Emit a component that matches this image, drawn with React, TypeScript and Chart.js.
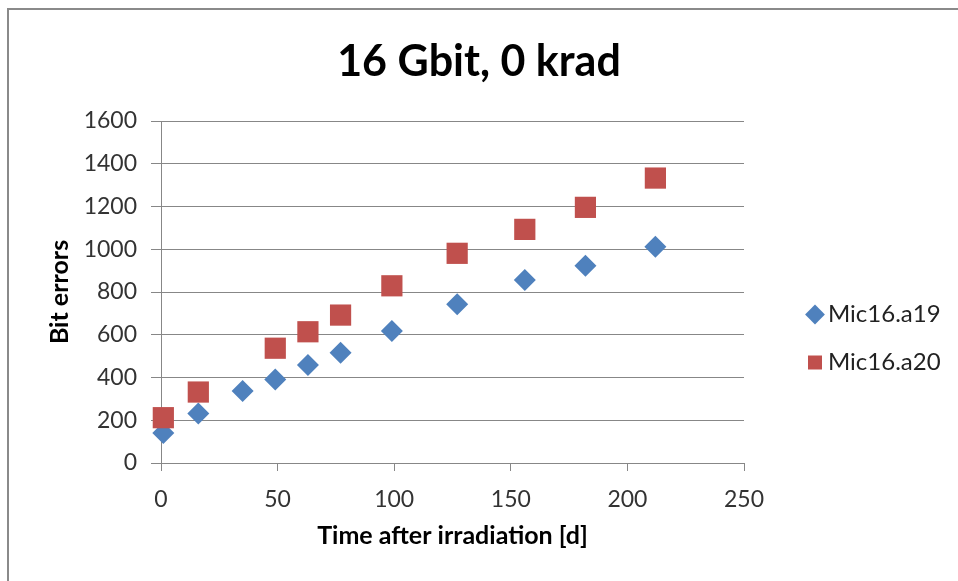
import React, { useEffect, useRef } from 'react';
import { Chart, registerables } from 'chart.js';

Chart.register(...registerables);

const TITLE = '16 Gbit, 0 krad';
const X_TITLE = 'Time after irradiation [d]';
const Y_TITLE = 'Bit errors';
const SERIES_NAMES = ['Mic16.a19', 'Mic16.a20'];

const A19_DAYS = [1, 16, 35, 49, 63, 77, 99, 127, 156, 182, 212];
const A19_ERRORS = [140, 232, 337, 391, 458, 516, 617, 743, 856, 923, 1012];
const A20_DAYS = [1, 16, 49, 63, 77, 99, 127, 156, 182, 212];
const A20_ERRORS = [212, 332, 537, 614, 692, 829, 981, 1093, 1196, 1333];

const X_MIN = 0;
const X_MAX = 250;
const X_STEP = 50;
const Y_MIN = 0;
const Y_MAX = 1600;
const Y_STEP = 200;

const W = 958;
const H = 581;
const FONT = "Lato, 'Open Sans', sans-serif";
const GRID = '#878787';
const TICK_COLOR = '#333333';

const LEGEND_W = 214;
const LEGEND_DX = 46;
const LEGEND_DY = 48;

function pts(xs: number[], ys: number[]) {
  return xs.map((x, i) => ({ x, y: ys[i] }));
}

export default function App() {
  const ref = useRef<HTMLCanvasElement | null>(null);

  useEffect(() => {
    if (!ref.current) return;
    const layoutPlugin = {
      id: 'layoutTweak',
      beforeLayout(chart: any) {
        const lg = chart.legend;
        if (lg && !lg.__patched) {
          const orig = lg.fit.bind(lg);
          lg.fit = function () {
            orig();
            this.width = LEGEND_W;
          };
          lg.__patched = true;
        }
      },
      afterLayout(chart: any) {
        const lg = chart.legend;
        if (lg) {
          lg.left += LEGEND_DX;
          lg.right += LEGEND_DX;
          lg.top += LEGEND_DY;
          lg.bottom += LEGEND_DY;
        }
      },
    };

    const chart = new Chart(ref.current, {
      type: 'scatter',
      data: {
        datasets: [
          {
            label: SERIES_NAMES[0],
            data: pts(A19_DAYS, A19_ERRORS),
            pointStyle: 'rectRot',
            pointRadius: 11,
            pointHoverRadius: 11,
            backgroundColor: '#4F81BD',
            borderColor: '#4F81BD',
            borderWidth: 0,
            clip: false,
            order: 1,
          },
          {
            label: SERIES_NAMES[1],
            data: pts(A20_DAYS, A20_ERRORS),
            pointStyle: 'rect',
            pointRadius: 15,
            pointHoverRadius: 15,
            backgroundColor: '#C0504D',
            borderColor: '#C0504D',
            borderWidth: 0,
            clip: false,
            order: 0,
          },
        ],
      },
      options: {
        responsive: false,
        animation: false,
        devicePixelRatio: 1,
        layout: { padding: 0 },
        plugins: {
          title: {
            display: true,
            text: TITLE,
            color: '#000000',
            font: { family: FONT, size: 43, weight: 'bold', lineHeight: 1.2 },
            padding: { top: 36, bottom: 33.4 },
          },
          legend: {
            display: true,
            position: 'right',
            align: 'center',
            labels: {
              usePointStyle: true,
              boxWidth: 2,
              boxHeight: 14,
              padding: 24,
              color: '#222222',
              font: { family: FONT, size: 24 },
              sort: (a: any, b: any) => a.datasetIndex - b.datasetIndex,
            },
          },
          tooltip: { enabled: false },
        },
        scales: {
          x: {
            type: 'linear',
            min: X_MIN,
            max: X_MAX,
            afterFit(scale: any) {
              scale.height = 118;
            },
            ticks: {
              stepSize: X_STEP,
              color: TICK_COLOR,
              padding: 15,
              font: { family: FONT, size: 23 },
              callback: (v: any) => String(v),
            },
            grid: {
              display: true,
              drawOnChartArea: false,
              drawTicks: true,
              tickLength: 8,
              color: GRID,
            },
            border: { display: true, color: GRID, width: 1 },
            title: {
              display: true,
              text: X_TITLE,
              color: '#000000',
              font: { family: FONT, size: 25, weight: 'bold', lineHeight: 1.2 },
              padding: { top: 0, bottom: 30 },
            },
          },
          y: {
            type: 'linear',
            min: Y_MIN,
            max: Y_MAX,
            afterFit(scale: any) {
              scale.width = 161;
            },
            ticks: {
              stepSize: Y_STEP,
              color: TICK_COLOR,
              padding: 14,
              font: { family: FONT, size: 23 },
              callback: (v: any) => String(v),
            },
            grid: {
              display: true,
              drawOnChartArea: true,
              drawTicks: true,
              tickLength: 10,
              color: GRID,
            },
            border: { display: true, color: GRID, width: 1 },
            title: {
              display: true,
              text: Y_TITLE,
              color: '#000000',
              font: { family: FONT, size: 25, weight: 'bold', lineHeight: 1.2 },
              padding: { top: 45, bottom: 0 },
            },
          },
        },
      },
      plugins: [layoutPlugin],
    } as any);
    return () => chart.destroy();
  }, []);

  return (
    <div style={{ position: 'absolute', left: 0, top: 0, width: W, height: H, background: '#ffffff' }}>
      <canvas ref={ref} width={W} height={H} style={{ position: 'absolute', left: 0, top: 0, width: W, height: H }} />
      <div
        style={{
          position: 'absolute',
          left: 7,
          top: 8,
          width: W - 9,
          height: H - 10,
          borderTop: '2px solid #8a8a8a',
          borderLeft: '2px solid #8a8a8a',
          pointerEvents: 'none',
        }}
      />
    </div>
  );
}
